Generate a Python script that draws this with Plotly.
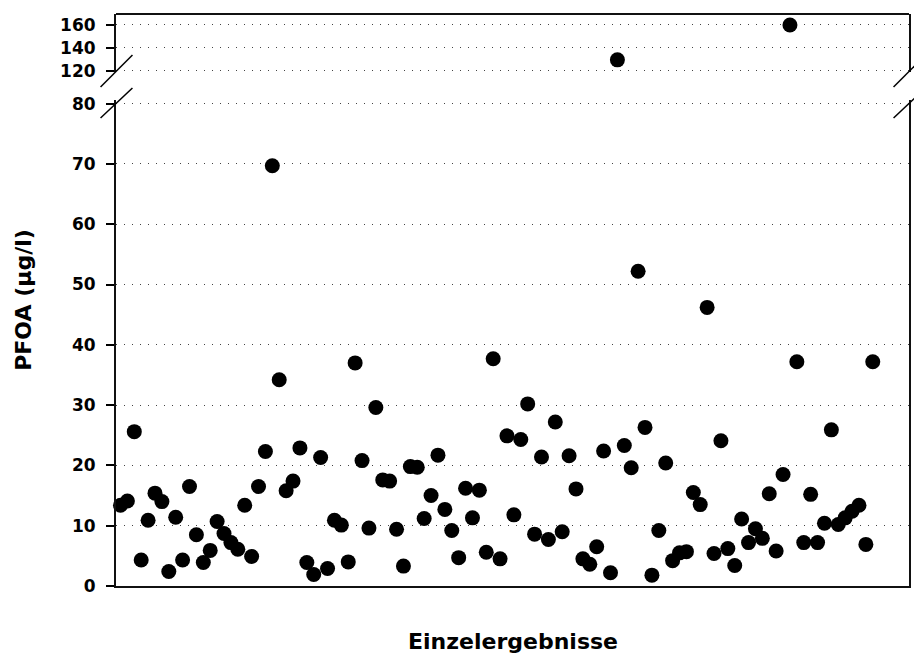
import numpy as np
import plotly.graph_objects as go

# ---- data ----
sample_no = list(range(1, 111))
pfoa = [13.4, 14.1, 25.6, 4.3, 10.9, 15.4, 14.0, 2.4, 11.4, 4.3,
        16.5, 8.5, 3.9, 5.9, 10.7, 8.7, 7.2, 6.1, 13.4, 4.9,
        16.5, 22.3, 69.7, 34.2, 15.8, 17.4, 22.9, 3.9, 1.9, 21.3,
        2.9, 10.9, 10.1, 4.0, 37.0, 20.8, 9.6, 29.6, 17.6, 17.4,
        9.4, 3.3, 19.8, 19.7, 11.2, 15.0, 21.7, 12.7, 9.2, 4.7,
        16.2, 11.3, 15.9, 5.6, 37.7, 4.5, 24.9, 11.8, 24.3, 30.2,
        8.6, 21.4, 7.7, 27.2, 9.0, 21.6, 16.1, 4.5, 3.6, 6.5,
        22.4, 2.2, 129.5, 23.3, 19.6, 52.2, 26.3, 1.8, 9.2, 20.4,
        4.2, 5.5, 5.7, 15.5, 13.5, 46.2, 5.4, 24.1, 6.2, 3.4,
        11.1, 7.2, 9.5, 7.9, 15.3, 5.8, 18.5, 160.0, 37.2, 7.2,
        15.2, 7.2, 10.4, 25.9, 10.2, 11.3, 12.4, 13.4, 6.9, 37.2]
lower_ticks = [0, 10, 20, 30, 40, 50, 60, 70, 80]
upper_ticks = [120, 140, 160]
y_title = "PFOA (µg/l)"
x_title = "Einzelergebnisse"

x = np.array(sample_no)
y = np.array(pfoa)
low = y <= 100
high = ~low

# ---- layout geometry (pixels) ----
W, H = 914, 657
L, R, T, B = 115.5, 911, 14, 586
pw, ph = R - L, B - T
low_top_px, up_bot_px = 100, 72


def px_x(p):
    return (p - L) / pw


def px_y(p):
    return (B - p) / ph


FONT = "DejaVu Sans"
tickfont = dict(family=FONT, size=17, color="black", weight="bold")
marker = dict(color="black", size=15, line=dict(width=0))

fig = go.Figure()
fig.add_trace(go.Scatter(x=x[low], y=y[low], mode="markers", marker=marker,
                         xaxis="x", yaxis="y", showlegend=False, cliponaxis=False))
fig.add_trace(go.Scatter(x=x[high], y=y[high], mode="markers", marker=marker,
                         xaxis="x", yaxis="y2", showlegend=False, cliponaxis=False))

grid = dict(showgrid=True, gridcolor="#444", gridwidth=1, griddash="1px,7px")
axis_line = dict(showline=True, linecolor="#111", linewidth=2, mirror=True)
ticks = dict(ticks="outside", ticklen=8, tickwidth=1.5, tickcolor="black",
             tickfont=tickfont, ticklabelstandoff=7, zeroline=False)

fig.update_layout(
    width=W, height=H,
    margin=dict(l=L, r=W - R, t=T, b=H - B, pad=0),
    paper_bgcolor="white", plot_bgcolor="white",
    xaxis=dict(range=[0.35, 115.25], domain=[0, 1], anchor="y",
               showticklabels=False, ticks="", showgrid=False, zeroline=False,
               showline=True, linecolor="#111", linewidth=2, mirror=False),
    yaxis=dict(range=[0, 80.6], domain=[0, px_y(low_top_px)], anchor="x",
               tickvals=lower_ticks, **ticks, **grid, **axis_line),
    yaxis2=dict(range=[118.9, 169.6], domain=[px_y(up_bot_px), 1], anchor="x",
                tickvals=upper_ticks, **ticks, **grid, **axis_line),
)

shapes = [dict(type="line", xref="paper", yref="paper", x0=0, x1=1, y0=1, y1=1,
               line=dict(color="#111", width=2))]
for xc in (L, R):
    for (y0, y1) in ((87, 55), (118, 88)):
        shapes.append(dict(type="line", xref="paper", yref="paper",
                           x0=px_x(xc - 15.5), x1=px_x(xc + 16.5),
                           y0=px_y(y0), y1=px_y(y1),
                           line=dict(color="black", width=1.5)))
fig.update_layout(shapes=shapes)

fig.add_annotation(text=y_title, xref="paper", yref="paper", x=px_x(22), y=0.5,
                   textangle=-90, showarrow=False, xanchor="center", yanchor="middle",
                   font=dict(family=FONT, size=22, color="black", weight="bold"))
fig.add_annotation(text=x_title, xref="paper", yref="paper", x=0.5, y=px_y(641),
                   showarrow=False, xanchor="center", yanchor="middle",
                   font=dict(family=FONT, size=22, color="black", weight="bold"))

fig.write_html("out.html")
